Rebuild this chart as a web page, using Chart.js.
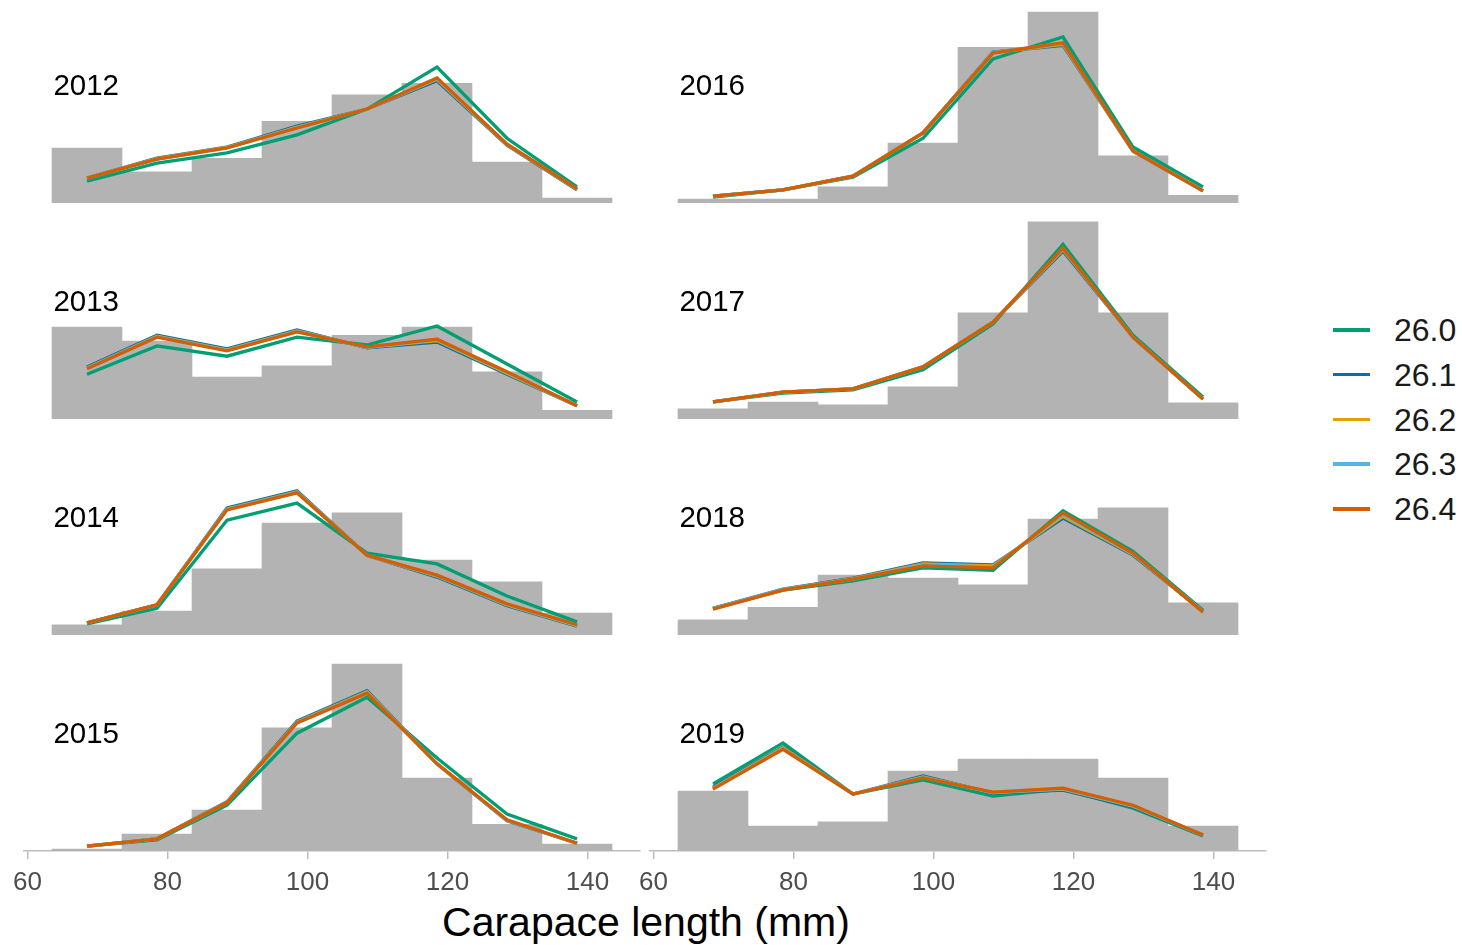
<!DOCTYPE html>
<html>
<head>
<meta charset="utf-8">
<script src="https://cdn.jsdelivr.net/npm/chart.js@4.4.1/dist/chart.umd.min.js"></script>
<style>
  html, body { margin: 0; padding: 0; background: #fff; }
  #wrap { position: relative; width: 1462px; height: 945px; overflow: hidden;
          font-family: "Liberation Sans", Arial, sans-serif; }
  .panel { position: absolute; }
  .leg-row { position: absolute; left: 1333px; height: 40px; }
  .leg-line { position: absolute; left: 0; top: 18px; width: 37px; height: 3.5px; }
  .leg-text { position: absolute; left: 61px; top: 0; font-size: 32px; line-height: 40px; color: #1a1a1a; }
  #xtitle { position: absolute; left: 346px; width: 600px; top: 902px; text-align: center;
            font-size: 41px; line-height: 40px; color: #000; }
</style>
</head>
<body>
<div id="wrap"><div id="xtitle">Carapace length (mm)</div></div>
<script>
// bin midpoints (mm) and axis ticks
const binMids = [68.5, 78.5, 88.5, 98.5, 108.5, 118.5, 128.5, 138.5];
const tickValues = [60, 80, 100, 120, 140];
const seriesNames = ['26.0', '26.1', '26.2', '26.3', '26.4'];
const seriesColors = ['#009E73', '#0072B2', '#E69F00', '#56B4E9', '#D55E00'];

// observed proportions (%) per bin, and fitted curves for each L50 value
const hist2012 = [11.3, 6.4, 9.2, 16.8, 22.2, 24.6, 8.4, 1.0];
const fit2012_260 = [4.5, 8.2, 10.3, 14.0, 19.3, 27.9, 13.3, 3.3];
const fit2012_261 = [5.1, 9.2, 11.5, 15.8, 19.3, 25.1, 11.9, 2.7];
const fit2012_262 = [5.1, 9.1, 11.4, 15.6, 19.3, 25.4, 12.0, 2.8];
const fit2012_263 = [5.1, 9.0, 11.3, 15.5, 19.3, 25.6, 12.1, 2.9];
const fit2012_264 = [5.1, 9.0, 11.3, 15.4, 19.3, 25.7, 12.1, 2.9];

const hist2013 = [18.9, 16.0, 8.6, 10.9, 17.2, 18.9, 9.7, 1.8];
const fit2013_260 = [9.2, 15.0, 12.9, 16.8, 15.2, 19.1, 11.3, 3.5];
const fit2013_261 = [10.7, 17.2, 14.4, 18.3, 14.6, 15.8, 9.2, 2.7];
const fit2013_262 = [10.5, 17.0, 14.2, 18.1, 14.7, 16.1, 9.4, 2.7];
const fit2013_263 = [10.4, 16.9, 14.1, 18.0, 14.7, 16.3, 9.6, 2.7];
const fit2013_264 = [10.3, 16.8, 14.0, 17.9, 14.8, 16.4, 9.7, 2.7];

const hist2014 = [2.1, 4.9, 13.6, 23.0, 25.1, 15.4, 10.9, 4.5];
const fit2014_260 = [2.3, 5.5, 23.6, 27.1, 16.8, 14.6, 8.0, 2.7];
const fit2014_261 = [2.5, 6.2, 26.1, 29.6, 16.4, 11.9, 6.0, 1.8];
const fit2014_262 = [2.5, 6.2, 25.9, 29.4, 16.4, 12.1, 6.2, 1.9];
const fit2014_263 = [2.5, 6.2, 25.8, 29.3, 16.4, 12.2, 6.3, 2.0];
const fit2014_264 = [2.5, 6.2, 25.7, 29.2, 16.4, 12.3, 6.4, 2.1];

const hist2015 = [0.4, 3.5, 8.4, 25.3, 38.4, 15.0, 5.5, 1.4];
const fit2015_260 = [1.0, 2.3, 9.4, 24.2, 31.6, 19.1, 7.6, 2.5];
const fit2015_261 = [1.0, 2.5, 10.1, 26.7, 32.9, 17.9, 6.2, 1.6];
const fit2015_262 = [1.0, 2.5, 10.0, 26.5, 32.7, 17.9, 6.3, 1.6];
const fit2015_263 = [1.0, 2.5, 9.9, 26.4, 32.5, 17.9, 6.3, 1.6];
const fit2015_264 = [1.0, 2.5, 9.9, 26.3, 32.4, 17.9, 6.4, 1.6];

const hist2016 = [0.8, 0.8, 3.3, 12.3, 32.0, 39.2, 9.7, 1.6];
const fit2016_260 = [1.2, 2.7, 5.3, 13.3, 29.6, 34.1, 11.5, 3.3];
const fit2016_261 = [1.4, 2.7, 5.5, 14.4, 31.0, 32.4, 10.7, 2.5];
const fit2016_262 = [1.4, 2.7, 5.5, 14.4, 30.9, 32.6, 10.7, 2.5];
const fit2016_263 = [1.4, 2.7, 5.5, 14.4, 30.9, 32.8, 10.7, 2.5];
const fit2016_264 = [1.4, 2.7, 5.5, 14.4, 30.8, 32.9, 10.7, 2.5];

const hist2017 = [2.1, 3.5, 2.9, 6.6, 21.8, 40.5, 21.8, 3.3];
const fit2017_260 = [3.5, 5.3, 6.0, 10.1, 19.5, 35.9, 17.2, 4.5];
const fit2017_261 = [3.5, 5.5, 6.2, 10.7, 19.9, 34.5, 16.8, 4.1];
const fit2017_262 = [3.5, 5.5, 6.2, 10.7, 19.9, 34.8, 16.8, 4.1];
const fit2017_263 = [3.5, 5.5, 6.2, 10.7, 19.9, 35.0, 16.8, 4.1];
const fit2017_264 = [3.5, 5.5, 6.2, 10.7, 19.9, 35.1, 16.8, 4.1];

const hist2018 = [3.1, 5.7, 12.3, 11.7, 10.3, 23.8, 26.1, 6.6];
const fit2018_260 = [5.5, 9.2, 11.1, 13.8, 13.3, 25.5, 17.2, 5.1];
const fit2018_261 = [5.5, 9.4, 11.7, 14.8, 14.4, 24.0, 16.4, 4.9];
const fit2018_262 = [5.4, 9.3, 11.6, 14.6, 14.2, 24.4, 16.6, 4.8];
const fit2018_263 = [5.4, 9.3, 11.5, 14.4, 14.0, 24.8, 16.7, 4.8];
const fit2018_264 = [5.3, 9.2, 11.5, 14.2, 13.8, 25.1, 16.8, 4.7];

const hist2019 = [12.3, 5.1, 6.0, 16.4, 18.9, 18.9, 15.0, 5.1];
const fit2019_260 = [13.8, 22.2, 11.7, 14.6, 11.3, 12.7, 8.8, 3.1];
const fit2019_261 = [13.1, 21.4, 11.7, 15.4, 11.9, 12.5, 9.0, 3.3];
const fit2019_262 = [12.9, 21.2, 11.7, 15.2, 12.0, 12.7, 9.2, 3.3];
const fit2019_263 = [12.8, 21.0, 11.7, 15.1, 12.0, 12.8, 9.3, 3.3];
const fit2019_264 = [12.7, 20.9, 11.7, 15.0, 12.1, 12.9, 9.4, 3.3];

const panels = [
  { year: '2012', hist: hist2012, fits: [fit2012_260, fit2012_261, fit2012_262, fit2012_263, fit2012_264] },
  { year: '2013', hist: hist2013, fits: [fit2013_260, fit2013_261, fit2013_262, fit2013_263, fit2013_264] },
  { year: '2014', hist: hist2014, fits: [fit2014_260, fit2014_261, fit2014_262, fit2014_263, fit2014_264] },
  { year: '2015', hist: hist2015, fits: [fit2015_260, fit2015_261, fit2015_262, fit2015_263, fit2015_264] },
  { year: '2016', hist: hist2016, fits: [fit2016_260, fit2016_261, fit2016_262, fit2016_263, fit2016_264] },
  { year: '2017', hist: hist2017, fits: [fit2017_260, fit2017_261, fit2017_262, fit2017_263, fit2017_264] },
  { year: '2018', hist: hist2018, fits: [fit2018_260, fit2018_261, fit2018_262, fit2018_263, fit2018_264] },
  { year: '2019', hist: hist2019, fits: [fit2019_260, fit2019_261, fit2019_262, fit2019_263, fit2019_264] }
];

// layout
const FONT = '"Liberation Sans", Arial, sans-serif';
const COL_X = [24, 650];
const ROW_BOTTOM = [203, 419, 635, 851];
const PANEL_W = 616, PANEL_H = 203, AXIS_H = 50, PAD = 20;
const X_MIN = 59.5, X_MAX = 147.5, Y_MAX = 41.7;
const AXIS_COLOR = '#BDBDBD';

const wrap = document.getElementById('wrap');

const panelLabel = {
  id: 'panelLabel',
  afterDatasetsDraw(chart, args, opts) {
    const { ctx, scales: { x, y } } = chart;
    ctx.save();
    ctx.font = '29.5px ' + FONT;
    ctx.fillStyle = '#000';
    ctx.textBaseline = 'alphabetic';
    ctx.textAlign = 'left';
    ctx.fillText(opts.text, x.getPixelForValue(63.7), y.getPixelForValue(22.1));
    ctx.restore();
  }
};

function pts(arr) {
  return binMids.map((m, i) => ({ x: m, y: arr[i] }));
}

panels.forEach((p, i) => {
  const col = Math.floor(i / 4), row = i % 4;
  const bottom = row === 3;
  const w = PANEL_W + 2 * PAD;
  const h = PANEL_H + (bottom ? AXIS_H : 0);

  const div = document.createElement('div');
  div.className = 'panel';
  div.style.left = (COL_X[col] - PAD) + 'px';
  div.style.top = (ROW_BOTTOM[row] - PANEL_H) + 'px';
  const canvas = document.createElement('canvas');
  canvas.width = w; canvas.height = h;
  canvas.style.width = w + 'px'; canvas.style.height = h + 'px';
  div.appendChild(canvas);
  wrap.appendChild(div);

  const datasets = [{
    type: 'bar',
    data: pts(p.hist),
    backgroundColor: '#B3B3B3',
    borderWidth: 0,
    barPercentage: 1,
    categoryPercentage: 1,
    order: 10
  }];
  p.fits.forEach((f, k) => {
    datasets.push({
      type: 'line',
      label: seriesNames[k],
      data: pts(f),
      borderColor: seriesColors[k],
      borderWidth: 3.3,
      pointRadius: 0,
      tension: 0,
      fill: false,
      order: 5 - k
    });
  });

  new Chart(canvas, {
    type: 'bar',
    data: { datasets },
    plugins: [panelLabel],
    options: {
      responsive: false,
      animation: false,
      events: [],
      layout: { padding: { left: PAD, right: PAD, top: 0, bottom: 0 } },
      plugins: {
        legend: { display: false },
        tooltip: { enabled: false },
        panelLabel: { text: p.year }
      },
      scales: {
        x: {
          type: 'linear',
          min: X_MIN, max: X_MAX,
          offset: false,
          display: bottom,
          border: { display: true, color: AXIS_COLOR, width: 1.5 },
          grid: { display: true, offset: false, drawOnChartArea: false, drawTicks: true, tickLength: 8,
                  color: AXIS_COLOR, lineWidth: 1.5 },
          ticks: { color: '#4D4D4D', font: { size: 26, family: FONT }, padding: 8,
                   maxRotation: 0, autoSkip: false },
          afterBuildTicks: s => { s.ticks = tickValues.map(v => ({ value: v })); },
          afterFit: s => { if (bottom) s.height = AXIS_H; }
        },
        y: {
          type: 'linear',
          min: 0, max: Y_MAX,
          display: false
        }
      }
    }
  });
});

// legend
seriesNames.forEach((name, k) => {
  const row = document.createElement('div');
  row.className = 'leg-row';
  row.style.top = (310 + k * 44.8) + 'px';
  row.innerHTML = '<div class="leg-line" style="background:' + seriesColors[k] + '"></div>' +
                  '<div class="leg-text">' + name + '</div>';
  wrap.appendChild(row);
});
</script>
</body>
</html>
